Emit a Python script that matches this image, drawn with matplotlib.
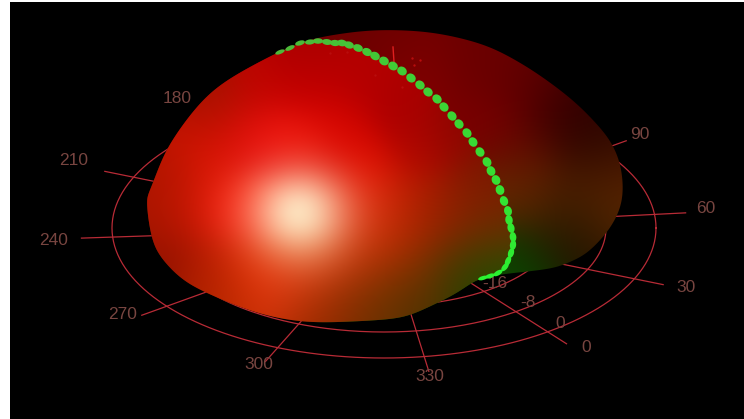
import numpy as np
import matplotlib
matplotlib.use("Agg")
import matplotlib.pyplot as plt
from matplotlib.path import Path
from matplotlib.patches import PathPatch, Rectangle
from matplotlib.collections import EllipseCollection

# ---------- chart content ----------
azimuth_deg = [0, 30, 60, 90, 120, 150, 180, 210, 240, 270, 300, 330]
azimuth_labels = ["0", "30", "60", "90", "180", "210", "240", "270", "300", "330"]
ring_labels = ["-16", "-8", "0"]
ring_a = [172, 222, 272]
ring_b = [78, 104, 130]

# label anchor positions (image pixels)
az_label_x = [586, 686, 706, 640, 177, 74, 54, 123, 259, 430]
az_label_y = [347, 287, 208, 134, 98, 160, 240, 314, 364, 376]
ring_label_x = [495, 528, 560]
ring_label_y = [283, 302, 323]
# on-screen direction of each spoke
spoke_phi = [53, 23, -6, -37, -67, -97, -127, -157, 176, 143, 113, 81.5]

# pattern cut (green markers)
cut_x = [280, 290, 300, 310, 318, 327, 335, 342, 349, 358, 367, 375, 384, 393, 402, 411, 420, 428,
         437, 444, 452, 459, 467, 473, 480, 487, 491, 496, 500, 504, 508, 509, 511, 513, 513, 511,
         508, 505, 498, 490, 483]
cut_y = [52, 48, 43, 42, 41, 42, 43, 43, 45, 48, 52, 56, 61, 66, 71, 78, 85, 92,
         99, 107, 116, 124, 133, 142, 152, 162, 171, 180, 190, 201, 211, 220, 228, 237, 245, 253,
         261, 267, 273, 276, 278]

# silhouette, clockwise from the left end of the cut
outline_x = [277, 305, 333, 363, 393, 428, 460, 487, 510, 535, 560, 578, 593, 606, 615, 621, 623, 620,
             613, 603, 587, 572, 557, 540, 523, 505, 493, 480, 470, 455, 437, 420, 403, 380, 340,
             307, 273, 240, 207, 183, 163, 152, 147, 148, 153, 163, 177, 200, 223, 250]
outline_y = [53, 41, 35, 31, 30, 32, 38, 46, 57, 72, 90, 105, 120, 135, 150, 168, 190, 208,
             223, 237, 253, 261, 267, 270, 272, 274, 276, 279, 284, 294, 303, 311, 317, 320, 322,
             322, 317, 307, 293, 280, 260, 240, 207, 195, 183, 157, 133, 103, 83, 67]

# sampled surface colours: x, y, r, g, b
front_samples = np.array([
    (300, 210, 255, 60, 35), (260, 210, 255, 55, 30), (340, 210, 250, 55, 30), (227, 213, 248, 30, 15),
    (190, 213, 220, 25, 5), (165, 213, 190, 20, 0), (152, 213, 165, 25, 0), (152, 235, 150, 20, 0),
    (173, 260, 135, 15, 0), (207, 263, 195, 30, 0), (207, 285, 170, 35, 0), (240, 300, 190, 45, 0),
    (280, 300, 210, 50, 10), (280, 280, 240, 60, 20), (250, 265, 235, 45, 5), (313, 267, 250, 70, 30),
    (313, 300, 180, 50, 0), (313, 317, 150, 40, 0), (347, 313, 120, 40, 0), (347, 300, 150, 50, 0),
    (347, 267, 220, 50, 10), (380, 300, 120, 55, 0), (380, 313, 90, 50, 0), (380, 267, 170, 45, 0),
    (413, 300, 70, 50, 0), (413, 267, 130, 50, 0), (447, 267, 90, 55, 0), (463, 280, 40, 60, 0),
    (480, 267, 50, 70, 0), (493, 267, 20, 90, 0), (380, 233, 210, 50, 5), (413, 233, 170, 40, 0),
    (447, 233, 140, 35, 0), (480, 233, 120, 40, 0), (497, 233, 100, 50, 0), (447, 207, 155, 30, 0),
    (480, 207, 130, 30, 0), (413, 207, 180, 30, 0), (380, 207, 225, 40, 10), (257, 90, 190, 5, 0),
    (207, 123, 205, 15, 0), (173, 157, 190, 20, 0), (160, 180, 170, 20, 0), (207, 103, 150, 20, 0),
    (240, 140, 225, 15, 10), (273, 140, 240, 20, 15), (307, 90, 200, 0, 0), (307, 57, 170, 0, 0),
    (205, 165, 225, 25, 5), (300, 147, 240, 25, 10), (340, 130, 215, 5, 0), (360, 80, 180, 0, 0),
    (360, 170, 225, 15, 0), (400, 110, 170, 0, 0), (420, 155, 180, 8, 0), (455, 135, 140, 5, 0),
    (485, 180, 120, 25, 0)], float)
back_samples = np.array([
    (340, 37, 110, 0, 0), (400, 38, 110, 0, 0), (420, 70, 130, 0, 0), (470, 50, 110, 0, 0),
    (493, 53, 105, 0, 0), (493, 120, 125, 0, 0), (527, 87, 90, 0, 0), (527, 153, 100, 10, 0),
    (560, 120, 50, 0, 0), (593, 153, 40, 5, 0), (610, 177, 70, 20, 0), (537, 200, 90, 40, 0),
    (520, 190, 110, 40, 0), (570, 200, 60, 25, 0), (603, 200, 100, 45, 0), (617, 217, 90, 40, 0),
    (570, 233, 40, 25, 0), (537, 250, 25, 30, 0), (587, 243, 30, 15, 0), (520, 267, 10, 70, 0),
    (505, 272, 10, 80, 0)], float)

# stray grid fragments showing through the top of the surface
speck_x = [330, 347, 412, 414, 402, 420, 375]
speck_y = [53, 52, 58, 65, 87, 60, 75]

# ---------- helpers ----------
W, H = 744, 419
CX, CY = 384, 228


def ring_xy(phi_deg, a, b):
    phi = np.radians(np.asarray(phi_deg, float))
    return CX + a * np.cos(phi), CY + b * np.sin(phi)


def smooth_closed(x, y, n=12, window=15):
    p = np.column_stack([x, y]).astype(float)
    out = []
    for i in range(len(p)):
        p0, p1, p2, p3 = p[i - 1], p[i], p[(i + 1) % len(p)], p[(i + 2) % len(p)]
        for t in np.linspace(0, 1, n, endpoint=False):
            out.append(0.5 * (2 * p1 + (p2 - p0) * t + (2 * p0 - 5 * p1 + 4 * p2 - p3) * t ** 2
                              + (3 * p1 - p0 - 3 * p2 + p3) * t ** 3))
    out = np.array(out)
    kernel = np.ones(window) / window
    return np.column_stack([np.convolve(np.r_[out[-window:, k], out[:, k], out[:window, k]], kernel, "same")[window:-window]
                            for k in (0, 1)])


def shade(samples, sigma):
    yy, xx = np.mgrid[0:H, 0:W]
    d2 = (xx[..., None] - samples[:, 0]) ** 2 + (yy[..., None] - samples[:, 1]) ** 2
    w = np.exp(-d2 / (2 * sigma ** 2)) + 1e-12
    return (w[..., None] * samples[:, 2:]).sum(2) / w.sum(2, keepdims=True), xx, yy


# ---------- figure ----------
fig = plt.figure(figsize=(W / 100, H / 100), dpi=100, facecolor="white")
ax = fig.add_axes([0, 0, 1, 1])
ax.set_xlim(0, W)
ax.set_ylim(H, 0)
ax.axis("off")
ax.add_patch(Rectangle((10, 2), W - 10, H - 2, fc="black", ec="none", zorder=0))

# polar grid
LINE = (0.72, 0.17, 0.21)
t = np.linspace(0, 360, 361)
for a, b in zip(ring_a, ring_b):
    x, y = ring_xy(t, a, b)
    ax.plot(x, y, color=LINE, lw=0.9, zorder=1)
for th, phi in zip(azimuth_deg, spoke_phi):
    x, y = ring_xy([phi, phi], [0, 272 * 1.115], [0, 130 * 1.115])
    ax.plot(x, y, color=LINE, lw=0.9, zorder=1)

# labels
TXT = (0.47, 0.27, 0.25)
for s, x, y in zip(azimuth_labels, az_label_x, az_label_y):
    ax.text(x, y, s, color=TXT, fontsize=12.5, family="Liberation Sans", ha="center", va="center", zorder=1)
for s, x, y in zip(ring_labels, ring_label_x, ring_label_y):
    ax.text(x, y, s, color=TXT, fontsize=12.5, family="Liberation Sans", ha="center", va="center", zorder=4)

# surface
sil = smooth_closed(outline_x, outline_y)
back_img, xx, yy = shade(back_samples, 28)
back_im = ax.imshow(np.clip(back_img, 0, 255).astype(np.uint8), extent=(0, W, H, 0),
                    aspect="auto", zorder=2, interpolation="bilinear")
back_im.set_clip_path(PathPatch(Path(np.vstack([sil, sil[0]]), closed=True), transform=ax.transData))

front_img, xx, yy = shade(front_samples, 25)
r2 = ((xx - 298) / 1.1) ** 2 + (yy - 212) ** 2
spec = np.exp(-r2 / (2 * 32.0 ** 2))
front_img[..., 1] += 165 * spec
front_img[..., 2] += 155 * spec

# front lobe: the smoothed silhouette from the lower end of the cut round to its upper end,
# closed along the cut itself
i_low = int(np.argmin((sil[:, 0] - cut_x[-1]) ** 2 + (sil[:, 1] - cut_y[-1]) ** 2))
i_high = int(np.argmin((sil[:, 0] - cut_x[0]) ** 2 + (sil[:, 1] - cut_y[0]) ** 2))
if i_low < i_high:
    rim = sil[i_low:i_high + 1]
else:
    rim = np.vstack([sil[i_low:], sil[:i_high + 1]])
front_poly = np.vstack([np.column_stack([cut_x, cut_y]), rim])
front_im = ax.imshow(np.clip(front_img, 0, 255).astype(np.uint8), extent=(0, W, H, 0),
                     aspect="auto", zorder=3, interpolation="bilinear")
front_im.set_clip_path(PathPatch(Path(np.vstack([front_poly, front_poly[0]]), closed=True), transform=ax.transData))
ax.set_xlim(0, W)
ax.set_ylim(H, 0)

# small vertical axis tip and stray fragments
ax.plot([393, 394], [47, 62], color=(0.88, 0.12, 0.12), lw=1.0, zorder=5)
ax.scatter(speck_x, speck_y, s=3, c=[(0.72, 0.05, 0.05)], linewidths=0, zorder=5)

# cut markers: flattened along the curve towards the ends
n = len(cut_x)
tx, ty = np.gradient(np.array(cut_x, float)), np.gradient(np.array(cut_y, float))
ang = np.degrees(np.arctan2(ty, tx))
edge = np.array([min(1.0, min(i, n - 1 - i) / 12) for i in range(n)])
widths = 10 * np.ones(n)
heights = 4 + 4.5 * edge
greens = [(0.30 - 0.14 * i / n, 0.72 + 0.24 * i / n, 0.22 - 0.03 * i / n) for i in range(n)]
ax.add_collection(EllipseCollection(widths, heights, ang, units="xy",
                                    offsets=np.column_stack([cut_x, cut_y]),
                                    offset_transform=ax.transData,
                                    facecolors=greens, edgecolors="none", zorder=6))

fig.savefig("out.png", dpi=100, facecolor="white")
